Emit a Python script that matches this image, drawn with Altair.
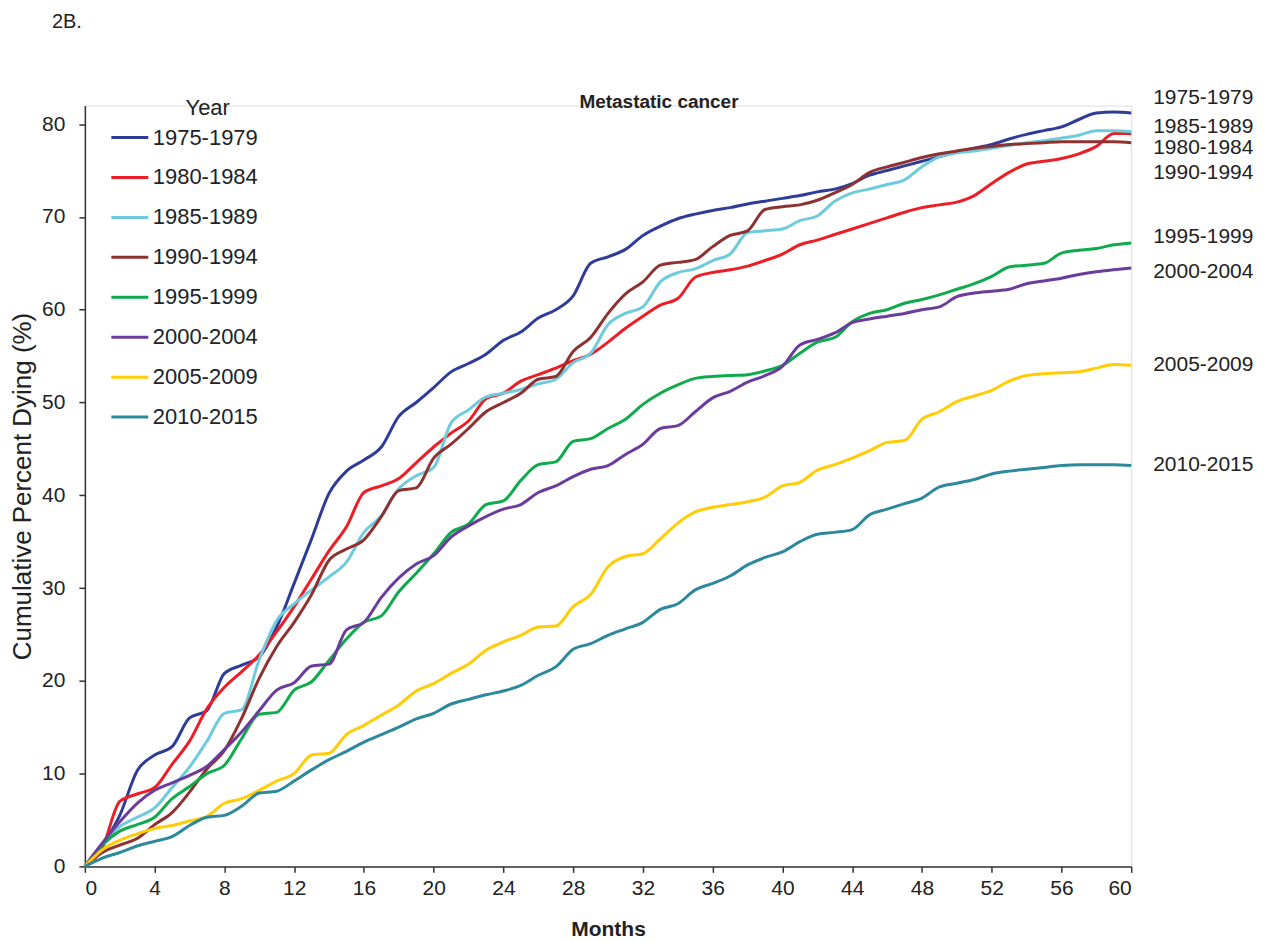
import altair as alt
import pandas as pd

months = list(range(61))

series_names = ["1975-1979", "1980-1984", "1985-1989", "1990-1994",
                "1995-1999", "2000-2004", "2005-2009", "2010-2015"]

s1975 = [0, 2.3, 5.5, 10.3, 12, 12.9, 16, 16.8, 20.8, 21.7, 22.6, 25.8, 30.5, 35.3, 40.2, 42.6, 43.8, 45.2, 48.5, 50,
         51.6, 53.3, 54.2, 55.2, 56.7, 57.6, 59.1, 60, 61.5, 65, 65.7, 66.5, 68, 69, 69.8, 70.3, 70.7, 71, 71.4, 71.7,
         72, 72.3, 72.7, 73, 73.6, 74.5, 75, 75.5, 76, 76.5, 77, 77.4, 77.8, 78.4, 78.9, 79.3, 79.7, 80.5, 81.2, 81.3, 81.2]
s1980 = [0, 2, 7, 7.8, 8.5, 11, 13.5, 17, 19.3, 21, 22.8, 25.3, 28, 31, 34, 36.6, 40.3, 41, 41.8, 43.5,
         45.2, 46.7, 48, 50.4, 51, 52.3, 53, 53.7, 54.5, 55.2, 56.5, 58, 59.3, 60.5, 61.2, 63.5, 64, 64.3, 64.7, 65.3,
         66, 67, 67.5, 68.1, 68.7, 69.3, 69.9, 70.5, 71, 71.3, 71.6, 72.3, 73.6, 74.8, 75.7, 76, 76.3, 76.8, 77.6, 79, 79]
s1985 = [0, 2.5, 4.3, 5.3, 6.3, 8.5, 10.7, 13.5, 16.5, 16.9, 22.3, 26.5, 28.3, 29.8, 31.2, 32.8, 36, 37.8, 40.7, 42.1,
         43, 47.8, 49.2, 50.6, 51, 51.4, 52, 52.5, 54.3, 55.3, 58.4, 59.6, 60.3, 63, 64, 64.4, 65.3, 66, 68.3, 68.5,
         68.7, 69.6, 70.1, 71.7, 72.6, 73, 73.5, 74, 75.4, 76.5, 76.9, 77.1, 77.4, 77.7, 78, 78.2, 78.5, 78.8, 79.3, 79.3, 79.2]
s1990 = [0, 1.5, 2.3, 3, 4.5, 5.8, 8, 10.5, 12.5, 16, 20.3, 23.7, 26.3, 29.3, 33, 34.2, 35.2, 37.7, 40.5, 40.8,
         44, 45.5, 47.2, 49, 50, 51, 52.5, 52.8, 55.5, 57, 59.6, 61.7, 63, 64.8, 65.1, 65.4, 66.8, 68, 68.5, 70.8,
         71.1, 71.3, 71.8, 72.6, 73.5, 74.8, 75.4, 75.9, 76.4, 76.8, 77.1, 77.4, 77.6, 77.8, 77.9, 78, 78.1, 78.1, 78.1, 78.1, 78]
s1995 = [0, 2.3, 3.8, 4.5, 5.3, 7.3, 8.6, 10, 10.9, 13.8, 16.4, 16.6, 19, 19.9, 22.2, 24.5, 26.3, 27, 29.6, 31.6,
         33.7, 36, 36.9, 39, 39.4, 41.6, 43.3, 43.6, 45.8, 46.1, 47.2, 48.2, 49.8, 51, 51.9, 52.6, 52.8, 52.9, 53, 53.4,
         54, 55.3, 56.5, 57, 58.7, 59.6, 60, 60.7, 61.1, 61.6, 62.2, 62.8, 63.6, 64.6, 64.8, 65, 66.1, 66.4, 66.6, 67, 67.2]
s2000 = [0, 2.5, 4.8, 6.8, 8.2, 9, 9.8, 10.8, 12.6, 14.5, 16.8, 19, 19.8, 21.6, 21.8, 25.5, 26.3, 29, 31.1, 32.6,
         33.5, 35.5, 36.7, 37.7, 38.5, 39, 40.3, 41, 42, 42.8, 43.2, 44.4, 45.5, 47.2, 47.5, 49, 50.5, 51.2, 52.2, 52.9,
         53.9, 56.2, 56.8, 57.5, 58.6, 59, 59.3, 59.6, 60, 60.3, 61.4, 61.8, 62, 62.2, 62.8, 63.1, 63.4, 63.8, 64.1, 64.3, 64.5]
s2005 = [0, 1.8, 2.8, 3.5, 4.1, 4.4, 4.9, 5.4, 6.8, 7.3, 8.2, 9.2, 10, 12, 12.2, 14.2, 15.2, 16.3, 17.4, 18.9,
         19.7, 20.8, 21.8, 23.3, 24.2, 24.9, 25.8, 25.9, 28, 29.3, 32.3, 33.4, 33.7, 35.3, 37, 38.2, 38.7, 39, 39.3, 39.8,
         41, 41.4, 42.7, 43.3, 44, 44.8, 45.7, 45.9, 48.2, 49, 50.1, 50.7, 51.3, 52.3, 52.9, 53.1, 53.2, 53.3, 53.7, 54.1, 54]
s2010 = [0, 0.9, 1.5, 2.2, 2.7, 3.2, 4.4, 5.3, 5.5, 6.5, 7.9, 8.1, 9.2, 10.4, 11.5, 12.4, 13.4, 14.2, 15, 15.9,
         16.5, 17.5, 18, 18.5, 18.9, 19.5, 20.6, 21.5, 23.4, 24, 24.9, 25.6, 26.3, 27.7, 28.3, 29.8, 30.5, 31.3, 32.5, 33.3,
         33.9, 35, 35.8, 36, 36.3, 37.9, 38.5, 39.1, 39.7, 40.9, 41.3, 41.7, 42.3, 42.6, 42.8, 43, 43.2, 43.3, 43.3, 43.3, 43.2]

all_series = [s1975, s1980, s1985, s1990, s1995, s2000, s2005, s2010]

colors = ["#2E3C97", "#EE1D25", "#6DCBDD", "#8E3131", "#0EAA4B", "#6C3C9C", "#FFCC05", "#2C889D"]

# end-label vertical placement (data units), in series order
label_values = [82.8, 77.4, 79.7, 74.7, 67.8, 64.1, 54.0, 43.3]

rows = []
for name, vals in zip(series_names, all_series):
    for m, v in zip(months, vals):
        rows.append({"Month": m, "Value": v, "Year": name})
df = pd.DataFrame(rows)

labels_df = pd.DataFrame({"Year": series_names, "Month": [60] * 8, "Value": label_values})

FONT = "Liberation Sans"
INK = "#222222"

x_scale = alt.Scale(domain=[0, 60], nice=False, zero=True)
y_scale = alt.Scale(domain=[0, 82], nice=False, zero=True)
color_scale = alt.Scale(domain=series_names, range=colors)

lines = alt.Chart(df).mark_line(strokeWidth=3, interpolate="monotone").encode(
    x=alt.X("Month:Q", scale=x_scale,
            axis=alt.Axis(values=list(range(0, 61, 4)), title="Months", grid=False,
                          labelFontSize=21, titleFontSize=21, titleFontWeight="bold",
                          tickSize=6, labelPadding=5, titlePadding=20,
                          domainColor="#333333", tickColor="#333333", domainWidth=1.5, tickWidth=1.5,
                          labelColor=INK, titleColor=INK, labelFont=FONT, titleFont=FONT)),
    y=alt.Y("Value:Q", scale=y_scale,
            axis=alt.Axis(values=list(range(0, 81, 10)), title="Cumulative Percent Dying (%)", grid=False,
                          labelFontSize=21, titleFontSize=26, titleFontWeight="normal",
                          tickSize=6, labelPadding=14, titlePadding=6,
                          domainColor="#333333", tickColor="#333333", domainWidth=1.5, tickWidth=1.5,
                          labelColor=INK, titleColor=INK, labelFont=FONT, titleFont=FONT)),
    color=alt.Color("Year:N", scale=color_scale,
                    legend=alt.Legend(title=None, orient="none", legendX=25, legendY=12,
                                      symbolType="stroke", symbolSize=1369, symbolStrokeWidth=3,
                                      labelFontSize=22, labelOffset=3, rowPadding=9, padding=0,
                                      labelFont=FONT, labelColor=INK)),
    detail="Year:N",
)

end_labels = alt.Chart(labels_df).mark_text(align="left", baseline="middle", dx=22, fontSize=21,
                                            font=FONT, color=INK).encode(
    x=alt.X("Month:Q", scale=x_scale),
    y=alt.Y("Value:Q", scale=y_scale),
    text="Year:N",
)

legend_title_df = pd.DataFrame({"t": ["Year"]})
legend_title = alt.Chart(legend_title_df).mark_text(align="center", baseline="middle", fontSize=22,
                                                    font=FONT, color=INK).encode(
    x=alt.value(123), y=alt.value(2), text="t:N")

text_df = pd.DataFrame({"t": ["2B."]})
panel_label = alt.Chart(text_df).mark_text(align="left", baseline="alphabetic", fontSize=20,
                                           font=FONT, color=INK).encode(
    x=alt.value(-33), y=alt.value(-78), text="t:N")

title_df = pd.DataFrame({"t": ["Metastatic cancer"]})
title_mark = alt.Chart(title_df).mark_text(align="center", baseline="alphabetic", fontSize=19,
                                           fontWeight="bold", font=FONT, color=INK).encode(
    x=alt.value(575), y=alt.value(2), text="t:N")

chart = alt.layer(lines, end_labels, legend_title, panel_label, title_mark).properties(
    width=1048, height=762,
    autosize=alt.AutoSizeParams(type="none"),
    padding={"left": 77, "top": 97, "right": 140, "bottom": 72},
).configure_view(stroke=None).configure(background="white")

chart.save("out.html", embed_options={"renderer": "svg", "actions": False})
